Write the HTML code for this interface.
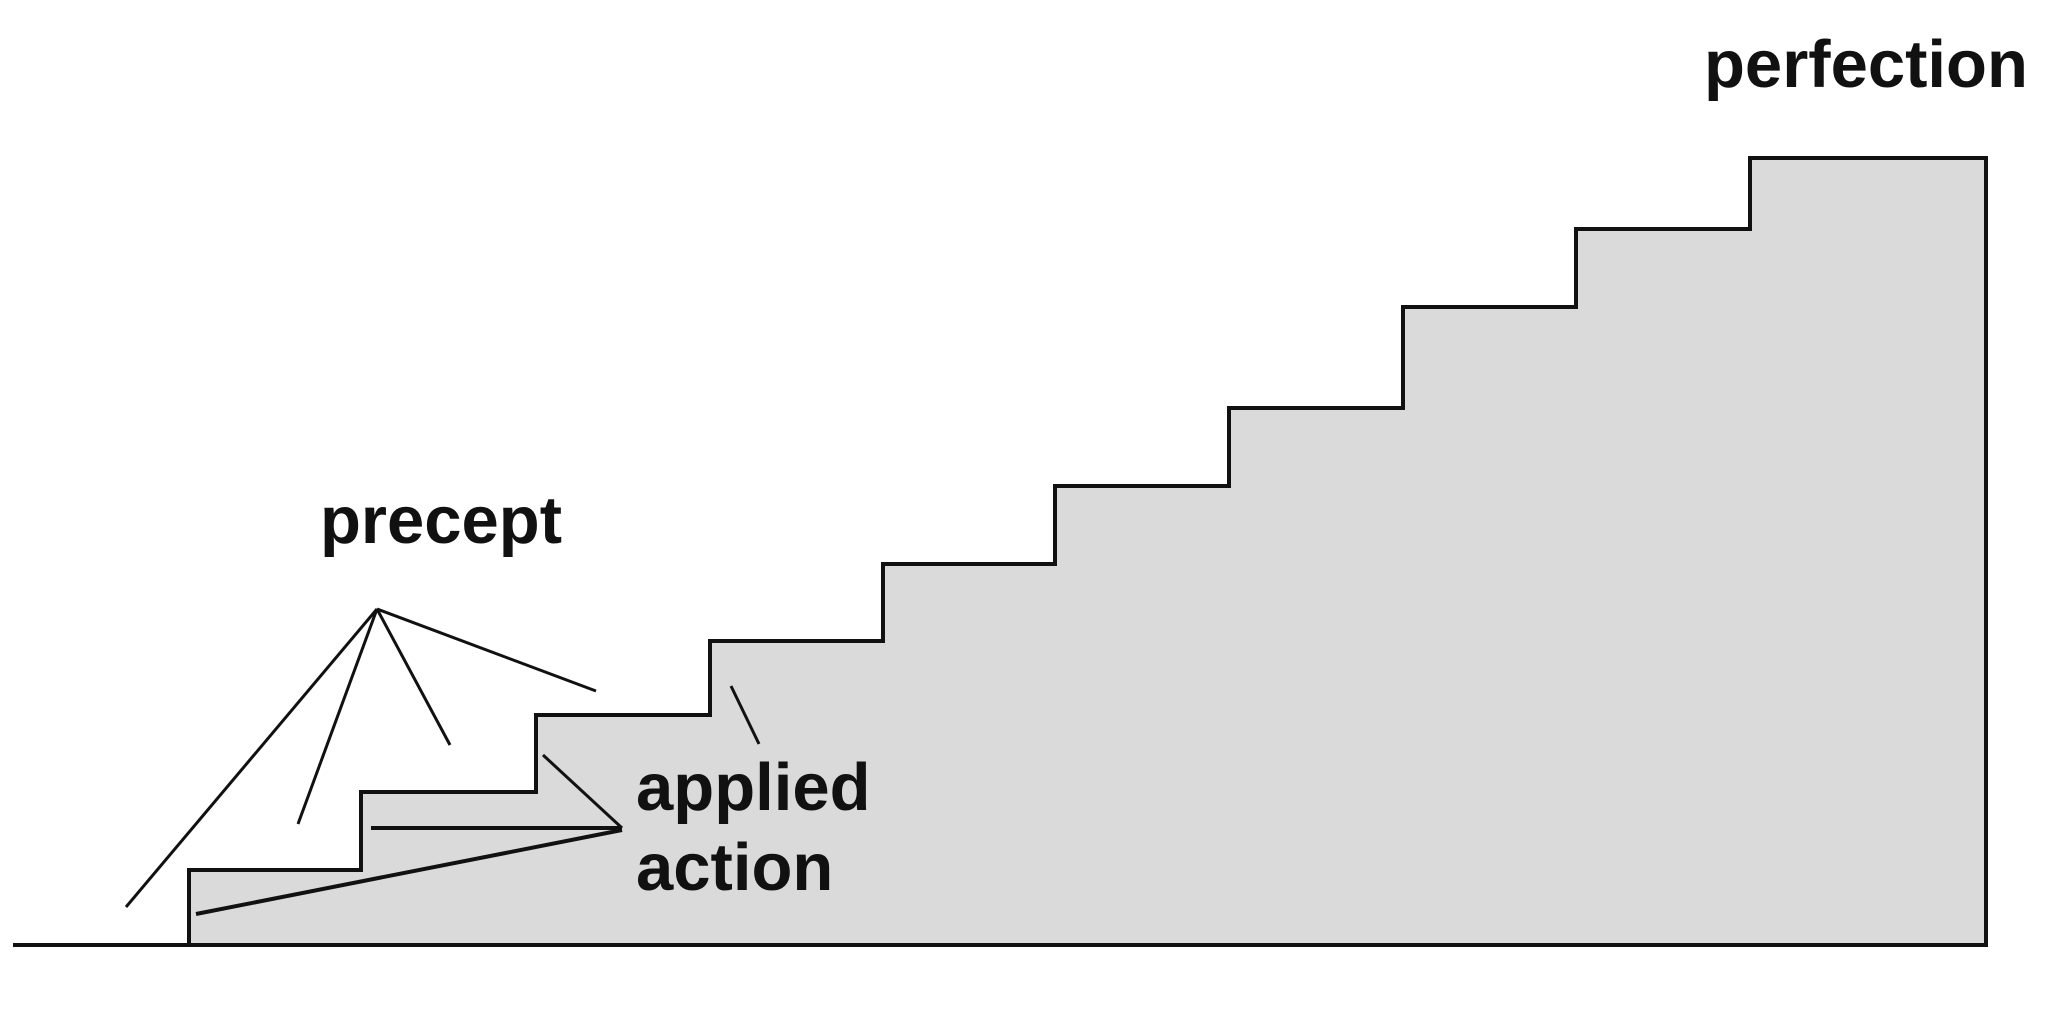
<!DOCTYPE html>
<html><head><style>
html,body{margin:0;padding:0;background:#fff;width:2047px;height:1030px;overflow:hidden}
</style></head><body>
<svg width="2047" height="1030" viewBox="0 0 2047 1030" xmlns="http://www.w3.org/2000/svg">
<polygon points="189,945 189,870 361,870 361,792 536,792 536,715 710,715 710,641 883,641 883,564 1055,564 1055,486 1229,486 1229,408 1403,408 1403,307 1576,307 1576,229 1750,229 1750,158 1986,158 1986,945" fill="#dadada"/>
<polyline points="13,945 189,945 189,870 361,870 361,792 536,792 536,715 710,715 710,641 883,641 883,564 1055,564 1055,486 1229,486 1229,408 1403,408 1403,307 1576,307 1576,229 1750,229 1750,158 1986,158 1986,945 189,945" fill="none" stroke="#111" stroke-width="4"/>
<g stroke="#111" stroke-width="3" fill="none">
<line x1="377" y1="609" x2="126" y2="907"/>
<line x1="377" y1="609" x2="298" y2="824"/>
<line x1="377" y1="609" x2="450" y2="745"/>
<line x1="377" y1="609" x2="596" y2="691"/>
<line x1="371" y1="828" x2="622" y2="828" stroke-width="4"/>
<line x1="622" y1="830" x2="196" y2="914" stroke-width="4"/>
<line x1="543" y1="755" x2="622" y2="828"/>
<line x1="731" y1="686" x2="759" y2="744"/>
</g>
<g font-family="Liberation Sans, sans-serif" font-weight="bold" font-size="67" fill="#111">
<text x="320" y="543">precept</text>
<text x="636" y="810">applied</text>
<text x="636" y="890">action</text>
<text x="1704" y="87">perfection</text>
</g>
</svg>
</body></html>
